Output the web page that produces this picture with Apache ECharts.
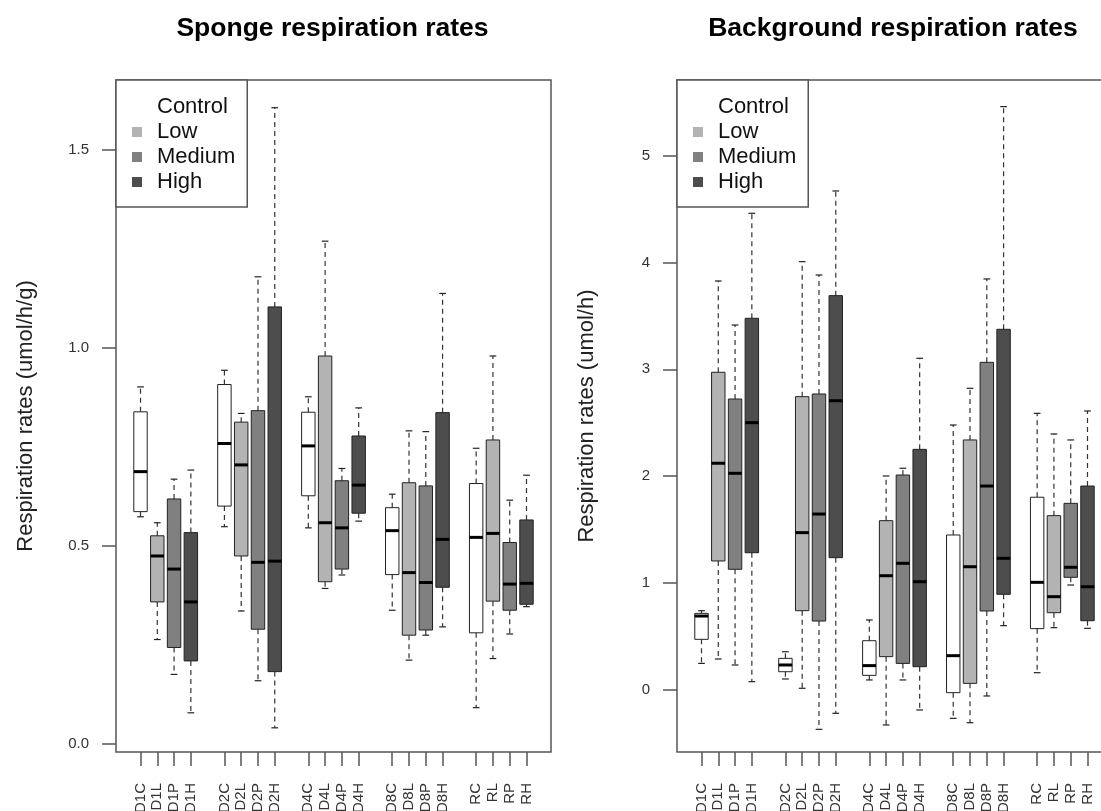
<!DOCTYPE html>
<html>
<head>
<meta charset="utf-8">
<title>Respiration rates</title>
<style>
    html, body { margin: 0; padding: 0; background: #fff; }
    #chart { width: 1101px; height: 811px; }
</style>
<script src="https://cdn.jsdelivr.net/npm/echarts@6/dist/echarts.min.js"></script>
</head>
<body>
<div id="chart"></div>
<script type="text/javascript">
// box order: day group x treatment (C, L, P, H)
var categories = ['D1C','D1L','D1P','D1H','D2C','D2L','D2P','D2H','D4C','D4L','D4P','D4H',
                  'D8C','D8L','D8P','D8H','RC','RL','RP','RH']
var positions = [1,2,3,4, 6,7,8,9, 11,12,13,14, 16,17,18,19, 21,22,23,24]
var treatments = ['Control','Low','Medium','High']

// sponge respiration (umol/h/g)
var spongeMin    = [0.574,0.264,0.176,0.079, 0.549,0.336,0.160,0.041, 0.546,0.393,0.427,0.563, 0.338,0.212,0.275,0.296, 0.092,0.216,0.278,0.347]
var spongeQ1     = [0.587,0.359,0.244,0.210, 0.601,0.475,0.290,0.183, 0.627,0.410,0.442,0.583, 0.428,0.275,0.288,0.396, 0.281,0.361,0.338,0.353]
var spongeMedian = [0.688,0.475,0.442,0.359, 0.759,0.705,0.459,0.462, 0.753,0.559,0.546,0.654, 0.539,0.433,0.408,0.517, 0.522,0.532,0.404,0.406]
var spongeQ3     = [0.839,0.526,0.619,0.534, 0.908,0.813,0.842,1.104, 0.838,0.980,0.665,0.778, 0.597,0.660,0.652,0.837, 0.658,0.768,0.509,0.566]
var spongeMax    = [0.902,0.559,0.669,0.692, 0.944,0.835,1.180,1.607, 0.877,1.270,0.696,0.849, 0.631,0.791,0.789,1.138, 0.747,0.980,0.616,0.679]

// background respiration (umol/h)
var bgMin    = [0.249,0.290,0.234,0.078, 0.103,0.016,-0.368,-0.218, 0.094,-0.327,0.094,-0.187, -0.265,-0.306,-0.056,0.602, 0.162,0.583,0.982,0.577]
var bgQ1     = [0.474,1.207,1.129,1.284, 0.171,0.742,0.645,1.238, 0.137,0.312,0.249,0.218, -0.025,0.062,0.739,0.895, 0.574,0.723,1.054,0.648]
var bgMedian = [0.692,2.121,2.027,2.501, 0.234,1.472,1.646,2.706, 0.228,1.069,1.185,1.013, 0.321,1.153,1.908,1.232, 1.007,0.873,1.148,0.966]
var bgQ3     = [0.717,2.972,2.722,3.477, 0.296,2.744,2.769,3.689, 0.461,1.584,2.011,2.251, 1.450,2.339,3.065,3.374, 1.803,1.631,1.746,1.908]
var bgMax    = [0.742,3.826,3.414,4.459, 0.358,4.007,3.882,4.668, 0.655,2.002,2.074,3.103, 2.479,2.822,3.845,5.457, 2.588,2.395,2.339,2.610]

var spongeTicks = [0, 0.5, 1.0, 1.5]
var bgTicks = [0, 1, 2, 3, 4, 5]

var fills = ['#ffffff', '#b3b3b3', '#808080', '#4d4d4d']
var font = "'Liberation Sans', Arial, Helvetica, sans-serif"

function boxData(t, mins, q1s, meds, q3s, maxs){
    var rows = []
    for (var i = 0; i < categories.length; i++){
        if (i % 4 === t){
            rows.push([positions[i], mins[i], q1s[i], meds[i], q3s[i], maxs[i]])
        }
    }
    return rows
}

function renderBox(params, api){
    var x = api.value(0)
    var lo = api.coord([x, api.value(1)])
    var q1 = api.coord([x, api.value(2)])
    var md = api.coord([x, api.value(3)])
    var q3 = api.coord([x, api.value(4)])
    var hi = api.coord([x, api.value(5)])
    var bw = api.size([0.8, 0])[0]
    var cx = lo[0]
    var dash = {stroke: '#333', lineWidth: 1.2, lineDash: [5, 4]}
    var solid = {stroke: '#222', lineWidth: 1.2}
    return {
        type: 'group',
        children: [
            {type: 'line', shape: {x1: cx, y1: q3[1], x2: cx, y2: hi[1]}, style: dash},
            {type: 'line', shape: {x1: cx, y1: q1[1], x2: cx, y2: lo[1]}, style: dash},
            {type: 'line', shape: {x1: cx - bw / 4, y1: hi[1], x2: cx + bw / 4, y2: hi[1]}, style: solid},
            {type: 'line', shape: {x1: cx - bw / 4, y1: lo[1], x2: cx + bw / 4, y2: lo[1]}, style: solid},
            {type: 'rect', shape: {x: cx - bw / 2, y: q3[1], width: bw, height: q1[1] - q3[1]},
                style: {fill: api.visual('color'), stroke: '#222', lineWidth: 1}},
            {type: 'line', shape: {x1: cx - bw / 2, y1: md[1], x2: cx + bw / 2, y2: md[1]},
                style: {stroke: '#000', lineWidth: 3}}
        ]
    }
}

function xAxisFor(gi){
    return {
        type: 'value', gridIndex: gi, min: -0.46, max: 25.46,
        axisLine: {show: false, onZero: false},
        splitLine: {show: false},
        axisTick: {show: true, customValues: positions, length: 14, lineStyle: {color: '#555', width: 1.5}},
        axisLabel: {
            customValues: positions, rotate: 90, margin: 31, fontSize: 15, color: '#333', fontFamily: font,
            formatter: function(v){ return categories[positions.indexOf(v)] }
        }
    }
}

function yAxisFor(gi, lo, hi, ticks, name, digits){
    return {
        type: 'value', gridIndex: gi, min: lo, max: hi,
        name: name, nameLocation: 'middle', nameGap: 79,
        nameTextStyle: {fontSize: 22, color: '#222', fontFamily: font},
        axisLine: {show: false, onZero: false},
        splitLine: {show: false},
        axisTick: {show: true, customValues: ticks, length: 14, lineStyle: {color: '#555', width: 1.5}},
        axisLabel: {
            customValues: ticks, margin: 27, fontSize: 15, color: '#333', fontFamily: font,
            formatter: function(v){ return v.toFixed(digits) }
        }
    }
}

function legendFor(left){
    return {
        left: left, top: 80, orient: 'vertical',
        selectedMode: false,
        backgroundColor: '#fff', borderColor: '#555', borderWidth: 1.5,
        padding: [16, 12, 14, 16],
        itemWidth: 10, itemHeight: 10, itemGap: 3,
        icon: 'rect',
        textStyle: {fontSize: 22, color: '#111', fontFamily: font, padding: [0, 0, 0, 10]},
        data: treatments.map(function(t, k){
            return {name: t, itemStyle: {color: fills[k], borderWidth: 0}}
        })
    }
}

var series = []
treatments.forEach(function(t, k){
    series.push({
        name: t, type: 'custom', xAxisIndex: 0, yAxisIndex: 0,
        itemStyle: {color: fills[k]},
        renderItem: renderBox,
        encode: {x: 0, y: [1, 2, 3, 4, 5]},
        data: boxData(k, spongeMin, spongeQ1, spongeMedian, spongeQ3, spongeMax)
    })
    series.push({
        name: t, type: 'custom', xAxisIndex: 1, yAxisIndex: 1,
        itemStyle: {color: fills[k]},
        renderItem: renderBox,
        encode: {x: 0, y: [1, 2, 3, 4, 5]},
        data: boxData(k, bgMin, bgQ1, bgMedian, bgQ3, bgMax)
    })
})

var chart = echarts.init(document.getElementById('chart'))
var option = {
    animation: false,
    backgroundColor: '#fff',
    textStyle: {fontFamily: font},
    title: [
        {text: 'Sponge respiration rates', left: 327.5, top: 10, textAlign: 'center',
            textStyle: {fontSize: 26.5, fontWeight: 'bold', color: '#000', fontFamily: font}},
        {text: 'Background respiration rates', left: 888, top: 10, textAlign: 'center',
            textStyle: {fontSize: 26.5, fontWeight: 'bold', color: '#000', fontFamily: font}}
    ],
    legend: [legendFor(116), legendFor(677)],
    grid: [
        {left: 116, top: 80, width: 435, height: 672, outerBoundsMode: 'none', containLabel: false,
            show: true, borderColor: '#555', borderWidth: 1.5, backgroundColor: 'transparent'},
        {left: 677, top: 80, width: 435, height: 672, outerBoundsMode: 'none', containLabel: false,
            show: true, borderColor: '#555', borderWidth: 1.5, backgroundColor: 'transparent'}
    ],
    xAxis: [xAxisFor(0), xAxisFor(1)],
    yAxis: [
        yAxisFor(0, -0.020, 1.677, spongeTicks, 'Respiration rates (umol/h/g)', 1),
        yAxisFor(1, -0.58, 5.706, bgTicks, 'Respiration rates (umol/h)', 0)
    ],
    series: series
}
chart.setOption(option)
</script>
</body>
</html>
